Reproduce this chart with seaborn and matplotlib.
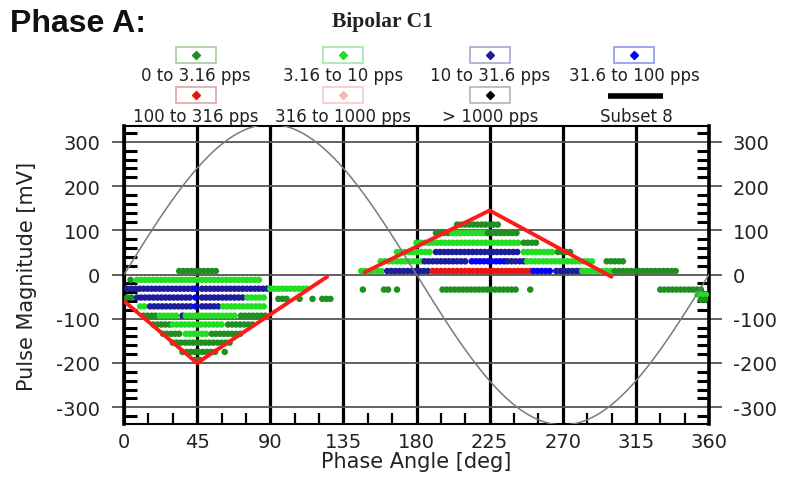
import numpy as np
import pandas as pd
import seaborn as sns
import matplotlib.pyplot as plt
from matplotlib.patches import Rectangle
from matplotlib.lines import Line2D
from matplotlib.ticker import MultipleLocator

# rate classes (legend order)
rate_labels = ["0 to 3.16 pps", "3.16 to 10 pps", "10 to 31.6 pps", "31.6 to 100 pps",
               "100 to 316 pps", "316 to 1000 pps", "> 1000 pps"]
rate_colors = ["#1f8f1f", "#22dd22", "#1c1c9c", "#0000ff", "#e8140f", "#ffb3b3", "#000000"]
box_edges = ["#a9c9a2", "#a6e4a6", "#a4a8cf", "#8e98e8", "#e4a4a4", "#f4c8d4", "#b4b4b4"]

DG, BG, NV, BL, RD = rate_labels[:5]

# phase bin width of the PRPD pattern
phase_step = 2.5

# runs of occupied bins: (magnitude mV, first phase, last phase, rate class)
neg_half_runs = [
    (8, 34, 57, DG),
    (-12, 4, 6, DG), (-12, 8, 84, BG),
    (-32, 2, 42, NV), (-32, 44, 46, BL), (-32, 48, 88, NV), (-32, 90, 113, BG),
    (-52, 2, 6, DG), (-52, 8, 42, NV), (-52, 44, 46, BL), (-52, 48, 74, NV), (-52, 76, 88, BG),
    (-55, 95, 100, DG), (-55, 108, 108, DG), (-55, 116, 116, DG), (-55, 122, 127, DG),
    (-72, 10, 14, BG), (-72, 16, 42, NV), (-72, 44, 46, BL), (-72, 48, 59, NV), (-72, 61, 88, BG),
    (-93, 12, 20, DG), (-93, 22, 34, BG), (-93, 36, 36, NV), (-93, 38, 70, BG), (-93, 72, 87, DG),
    (-113, 18, 28, DG), (-113, 30, 62, BG), (-113, 64, 80, DG),
    (-134, 24, 36, DG), (-134, 38, 52, BG), (-134, 54, 73, DG),
    (-154, 30, 66, DG),
    (-175, 36, 56, DG), (-175, 62, 62, DG),
    (-193, 44, 48, DG),
]
pos_half_runs = [
    (113, 205, 230, DG),
    (94, 192, 200, DG), (94, 202, 222, BG), (94, 224, 243, DG),
    (72, 180, 244, BG), (72, 246, 255, DG),
    (51, 168, 190, BG), (51, 192, 244, NV), (51, 246, 265, BG), (51, 267, 275, DG),
    (30, 158, 184, BG), (30, 185, 212, NV), (30, 214, 234, BL), (30, 236, 246, NV),
    (30, 248, 290, BG), (30, 297, 308, DG),
    (8, 146, 160, BG), (8, 162, 189, NV), (8, 190, 250, RD), (8, 252, 264, BL),
    (8, 266, 281, NV), (8, 282, 300, BG), (8, 302, 341, DG),
    (-34, 147, 147, DG), (-34, 160, 163, DG), (-34, 168, 168, DG),
    (-34, 196, 243, DG), (-34, 250, 250, DG), (-34, 330, 356, DG),
    (-45, 353, 358, BG), (-57, 355, 358, DG),
]

# envelope ("Subset 8") vertices
left_env_x = [0, 45, 125]
left_env_y = [-60, -200, -5]
right_env_x = [148, 225, 300]
right_env_y = [5, 145, -5]

sine_amplitude = 340

rows = []
for mag, a, b, rate in neg_half_runs + pos_half_runs:
    for ph in np.arange(a, b + 1e-6, phase_step):
        rows.append({"phase": ph, "mag": mag, "rate": rate})
df = pd.DataFrame(rows)

sns.set_style("white")
plt.rcParams["font.family"] = ["DejaVu Sans"]
plt.rcParams["axes.unicode_minus"] = False

W, H = 797, 502
fig = plt.figure(figsize=(W / 100, H / 100), dpi=100)
ax = fig.add_axes([124 / W, 1 - 425 / H, 585 / W, 298 / H])

def fx(x, y):
    return x / W, 1 - y / H

ph = np.linspace(0, 360, 721)
sns.lineplot(x=ph, y=sine_amplitude * np.sin(np.radians(ph)), color="#7a7a7a", lw=1.1,
             ax=ax, zorder=4)
sns.scatterplot(data=df, x="phase", y="mag", hue="rate",
                palette=dict(zip(rate_labels, rate_colors)), s=22, linewidth=0,
                legend=False, ax=ax, zorder=3)
sns.lineplot(x=left_env_x, y=left_env_y, color="#ff1a1a", lw=2.8, sort=False, ax=ax, zorder=5)
sns.lineplot(x=right_env_x, y=right_env_y, color="#ff1a1a", lw=2.8, sort=False, ax=ax, zorder=5)

ax.set_xlim(0, 360)
ax.set_ylim(-338, 336)
ax.xaxis.set_major_locator(MultipleLocator(45))
ax.xaxis.set_minor_locator(MultipleLocator(15))
ax.yaxis.set_major_locator(MultipleLocator(100))
ax.yaxis.set_minor_locator(MultipleLocator(20))
ax.set_axisbelow(True)
ax.grid(axis="x", which="major", color="black", lw=2.3)
ax.grid(axis="y", which="major", color="#555555", lw=1.3)

ax.tick_params(axis="x", which="major", direction="out", length=5, width=2.3,
               color="black", labelsize=14, labelcolor="#222222", pad=1)
ax.tick_params(axis="x", which="minor", direction="in", length=8, width=1.6,
               color="black", bottom=True, top=False)
ax.tick_params(axis="y", which="major", direction="out", length=9, width=1.3,
               color="#555555", left=True, right=True, labelleft=True, labelright=True,
               labelsize=14, labelcolor="#222222", pad=8)
ax.tick_params(axis="y", which="minor", direction="in", length=9, width=2.2,
               color="black", left=True, right=True)
for side, lw in [("left", 2.6), ("right", 2.6), ("top", 1.5), ("bottom", 1.5)]:
    ax.spines[side].set_color("black")
    ax.spines[side].set_linewidth(lw)

ax.set_xlabel("Phase Angle [deg]", fontsize=15, color="#222222", labelpad=0)
ax.set_ylabel("Pulse Magnitude [mV]", fontsize=15, color="#222222", labelpad=14)

fig.text(*fx(10, 9), "Phase A:", fontsize=23, fontweight="bold", va="top", ha="left",
         family="Liberation Sans", color="#111111")
fig.text(*fx(382, 22), "Bipolar C1", fontsize=15.5, fontweight="bold", va="center",
         ha="center", family="Liberation Serif", color="#222222")

# legend boxes
col_x = [196, 343, 490, 634]
box_y = [56, 96]
label_y = [76, 117]
for i, (lab, col, edge) in enumerate(zip(rate_labels, rate_colors, box_edges)):
    r, c = divmod(i, 4)
    cx, cy = col_x[c], box_y[r]
    x0, y0 = fx(cx - 20, cy + 8)
    fig.add_artist(Rectangle((x0, y0), 40 / W, 16 / H, transform=fig.transFigure,
                             fill=False, edgecolor=edge, lw=1.2))
    fig.add_artist(Line2D([cx / W], [1 - cy / H], transform=fig.transFigure,
                          marker="D", ms=4, color=col, lw=0))
    fig.text(*fx(cx, label_y[r]), lab, fontsize=12, ha="center", va="center",
             color="#222222")
fig.add_artist(Line2D([608 / W, 663 / W], [1 - 97 / H] * 2, transform=fig.transFigure,
                      color="black", lw=4, solid_capstyle="butt"))
fig.text(*fx(636, 117), "Subset 8", fontsize=12, ha="center", va="center", color="#222222")

fig.savefig("out.png", dpi=100)
